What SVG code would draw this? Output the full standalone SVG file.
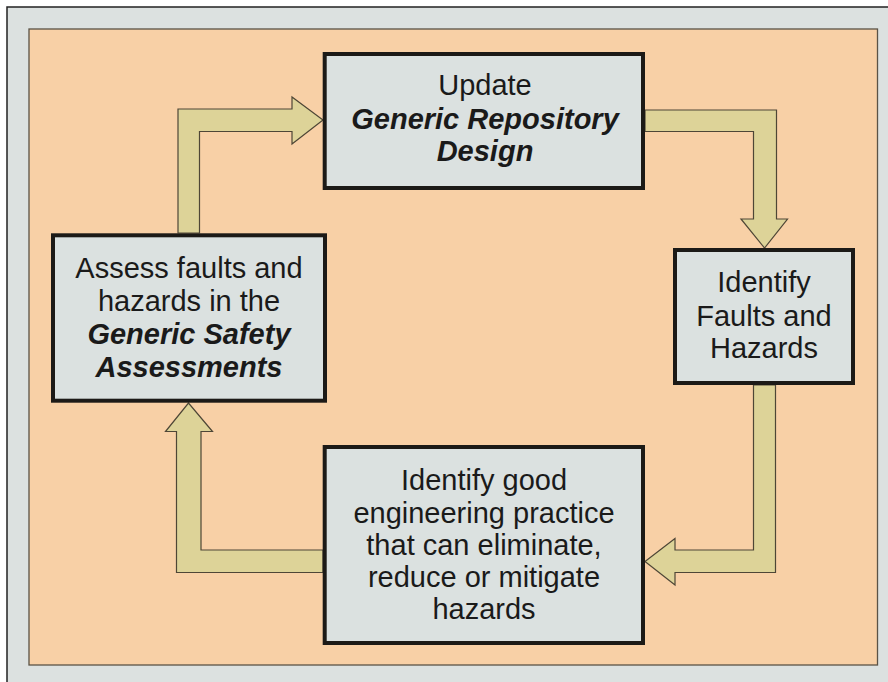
<svg xmlns="http://www.w3.org/2000/svg" width="888" height="682" viewBox="0 0 888 682">
  <style>
    .box { fill: #dbe1e0; stroke: #1c1a17; stroke-width: 4; }
    .arrow { fill: #ddd398; stroke: #4e4636; stroke-width: 1.2; stroke-linejoin: miter; }
    text { font-family: "Liberation Sans", Arial, sans-serif; font-size: 29px; fill: #1a1a1a; text-anchor: middle; }
    .em { font-weight: bold; font-style: italic; }
  </style>
  <rect x="0" y="0" width="888" height="682" fill="#ffffff"/>
  <rect id="frame" x="7" y="7" width="900" height="700" fill="#dce1e0" stroke="#222222" stroke-width="1.5"/>
  <rect id="panel" x="29" y="29" width="848.5" height="636" fill="#f8d0a6" stroke="#5a5246" stroke-width="1.3"/>

  <g id="connectors">
    <polygon class="arrow" points="178,233 178,109 292,109 292,97 323,120 292,144 292,131.5 199.5,131.5 199.5,233"/>
    <polygon class="arrow" points="645,110 776.5,110 776.5,219 787.5,219 764.5,248 741,219 753.5,219 753.5,131.5 645,131.5"/>
    <polygon class="arrow" points="753.5,385 775.5,385 775.5,572.5 675,572.5 675,585 645,561.5 675,538.5 675,550 753.5,550"/>
    <polygon class="arrow" points="323,572.5 176.5,572.5 176.5,431.5 165.5,431.5 188.5,403 212.5,431.5 201,431.5 201,550 323,550"/>
  </g>

  <g id="update">
    <rect class="box" x="324.7" y="54" width="318.3" height="134"/>
    <text x="485" y="95">Update</text>
    <text class="em" x="485" y="128.5">Generic Repository</text>
    <text class="em" x="485" y="161">Design</text>
  </g>

  <g id="identify-faults">
    <rect class="box" x="675" y="250" width="178" height="133"/>
    <text x="764" y="292">Identify</text>
    <text x="764" y="325.5">Faults and</text>
    <text x="764" y="358">Hazards</text>
  </g>

  <g id="good-practice">
    <rect class="box" x="324.7" y="447" width="318.3" height="196"/>
    <text x="484" y="490">Identify good</text>
    <text x="484" y="522.5">engineering practice</text>
    <text x="484" y="555">that can eliminate,</text>
    <text x="484" y="587">reduce or mitigate</text>
    <text x="484" y="619">hazards</text>
  </g>

  <g id="assess">
    <rect class="box" x="53" y="235.3" width="272" height="165.4"/>
    <text x="189" y="278">Assess faults and</text>
    <text x="189" y="311">hazards in the</text>
    <text class="em" x="189" y="344">Generic Safety</text>
    <text class="em" x="189" y="377">Assessments</text>
  </g>
</svg>
